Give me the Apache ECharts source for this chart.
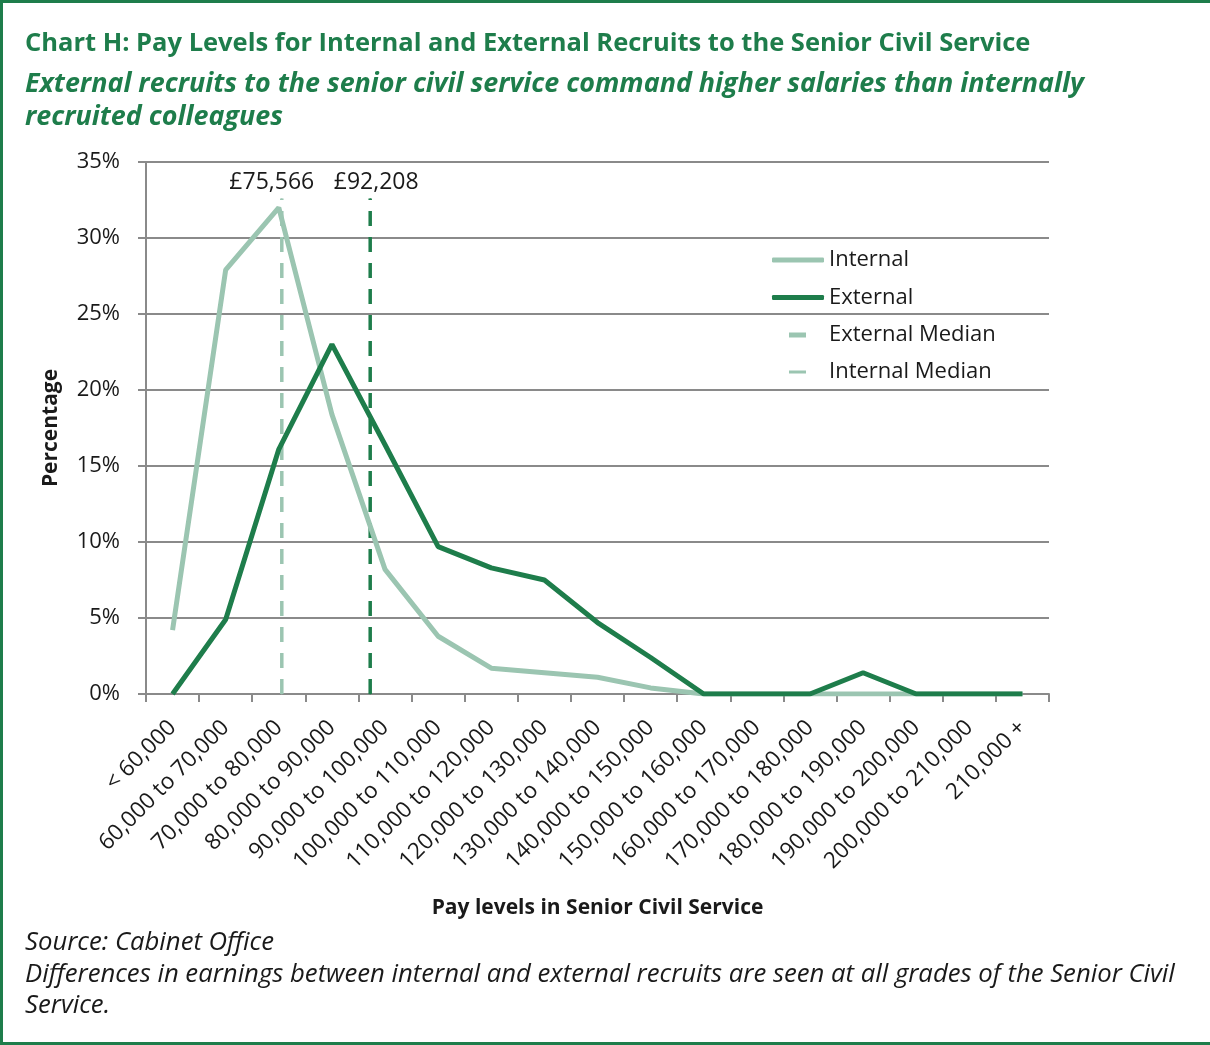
<!DOCTYPE html>
<html>
<head>
<meta charset="utf-8">
<script src="https://cdn.jsdelivr.net/npm/echarts@6/dist/echarts.min.js"></script>
<style>
  html, body { margin: 0; padding: 0; background: #fff; }
  #wrap { position: relative; width: 1210px; height: 1045px; }
  #chart { position: absolute; left: 0; top: 0; width: 1210px; height: 1045px; }
  #frame { position: absolute; left: 0; top: 0; width: 1210px; height: 1045px; box-sizing: border-box;
           border-top: 3px solid #1e7d4b; border-left: 3px solid #1e7d4b; border-bottom: 3px solid #1e7d4b; pointer-events: none; }
</style>
</head>
<body>
<div id="wrap"><div id="chart"></div><div id="frame"></div></div>
<script>
// ---- data ----
const categories = ['< 60,000', '60,000 to 70,000', '70,000 to 80,000', '80,000 to 90,000', '90,000 to 100,000',
  '100,000 to 110,000', '110,000 to 120,000', '120,000 to 130,000', '130,000 to 140,000', '140,000 to 150,000',
  '150,000 to 160,000', '160,000 to 170,000', '170,000 to 180,000', '180,000 to 190,000', '190,000 to 200,000',
  '200,000 to 210,000', '210,000 +'];
const internalPct = [4.2, 27.9, 32.0, 18.4, 8.2, 3.8, 1.7, 1.4, 1.1, 0.4, 0, 0, 0, 0, 0, 0, 0];
const externalPct = [0, 4.9, 16.1, 23.0, 16.4, 9.7, 8.3, 7.5, 4.7, 2.4, 0, 0, 0, 1.4, 0, 0, 0];
const internalMedian = 75566;
const externalMedian = 92208;
const medianLineTop = 32.6;       // height (in %) of the median marker lines
const bandStart = 50000, bandWidth = 10000; // first band treated as 50,000-60,000
const yTicks = [0, 5, 10, 15, 20, 25, 30, 35];

const DARK = '#1e7d4b';
const LIGHT = '#9bc5b1';
const AXIS = '#8a8a8a';
const TXT = '#1a1a1a';
const FONT = "'Open Sans', 'Noto Sans', sans-serif";

function medianPos(v) { return (v - bandStart) / bandWidth; }
function fmtGBP(v) { return '£' + v.toLocaleString('en-GB'); }

function medianSeries(name, v, color, width, offX) {
  const p = medianPos(v);
  return {
    name: name, type: 'line', xAxisIndex: 1, yAxisIndex: 0,
    symbol: 'circle', symbolSize: 1, z: 1,
    itemStyle: { color: color },
    lineStyle: { color: color, width: width, type: [15, 11] },
    data: [
      [p, 0],
      { value: [p, medianLineTop],
        label: { show: true, position: 'top', distance: 4, offset: [offX, 0], formatter: fmtGBP(v),
                 color: TXT, fontSize: 23, fontFamily: FONT } }
    ],
    silent: true, animation: false
  };
}

const chart = echarts.init(document.getElementById('chart'), null, { renderer: 'canvas' });
chart.setOption({
  backgroundColor: '#fff',
  animation: false,
  title: [
    { text: 'Chart H: Pay Levels for Internal and External Recruits to the Senior Civil Service',
      left: 20, top: 24,
      textStyle: { color: DARK, fontFamily: FONT, fontWeight: 'bold', fontSize: 25.5, lineHeight: 30 } },
    { text: 'External recruits to the senior civil service command higher salaries than internally\nrecruited colleagues',
      left: 20, top: 63,
      textStyle: { color: DARK, fontFamily: FONT, fontWeight: 'bold', fontStyle: 'italic', fontSize: 26.9, lineHeight: 33 } },
    { text: 'Source: Cabinet Office\nDifferences in earnings between internal and external recruits are seen at all grades of the Senior Civil\nService.',
      left: 20, top: 922,
      textStyle: { color: TXT, fontFamily: FONT, fontWeight: 'normal', fontStyle: 'italic', fontSize: 25.7, lineHeight: 31.5 } }
  ],
  legend: [
    { orient: 'vertical', left: 772, top: 248, padding: 0, itemWidth: 52, itemHeight: 5, itemGap: 13.5,
      textStyle: { color: TXT, fontSize: 22, fontFamily: FONT, lineHeight: 24 },
      data: [ { name: 'Internal', icon: 'roundRect', itemStyle: { color: LIGHT, borderWidth: 0 } },
              { name: 'External', icon: 'roundRect', itemStyle: { color: DARK, borderWidth: 0 } } ] },
    { orient: 'vertical', left: 789, top: 323, padding: 0, itemWidth: 17, itemHeight: 5,
      textStyle: { color: TXT, fontSize: 22, fontFamily: FONT, lineHeight: 24, padding: [0, 0, 0, 18] },
      data: [ { name: 'External Median', icon: 'rect', itemStyle: { color: LIGHT, borderWidth: 0 } } ] },
    { orient: 'vertical', left: 789, top: 360, padding: 0, itemWidth: 17, itemHeight: 3,
      textStyle: { color: TXT, fontSize: 22, fontFamily: FONT, lineHeight: 24, padding: [0, 0, 0, 18] },
      data: [ { name: 'Internal Median', icon: 'rect', itemStyle: { color: LIGHT, borderWidth: 0 } } ] }
  ],
  grid: { left: 146, right: 161, top: 162, bottom: 351, containLabel: false },
  xAxis: [
    { type: 'category', data: categories, boundaryGap: true,
      name: 'Pay levels in Senior Civil Service', nameLocation: 'middle', nameGap: 204,
      nameTextStyle: { color: TXT, fontFamily: FONT, fontWeight: 'bold', fontSize: 21 },
      axisLine: { lineStyle: { color: AXIS, width: 2 } },
      axisTick: { show: true, interval: 0, length: 8, lineStyle: { color: AXIS, width: 2 } },
      axisLabel: { interval: 0, rotate: 45, margin: 30, color: TXT, fontSize: 22.5, fontFamily: FONT },
      splitLine: { show: false } },
    { type: 'value', min: 0, max: categories.length, show: false }
  ],
  yAxis: [
    { type: 'value', min: yTicks[0], max: yTicks[yTicks.length - 1], interval: 5,
      name: 'Percentage', nameLocation: 'middle', nameGap: 84,
      nameTextStyle: { color: TXT, fontFamily: FONT, fontWeight: 'bold', fontSize: 21 },
      axisLine: { show: true, lineStyle: { color: AXIS, width: 2 } },
      axisTick: { show: true, length: 8, lineStyle: { color: AXIS, width: 2 } },
      axisLabel: { margin: 26, color: TXT, fontSize: 22, fontFamily: FONT, formatter: '{value}%' },
      splitLine: { show: true, lineStyle: { color: AXIS, width: 2 } } }
  ],
  series: [
    { name: 'Internal', type: 'line', data: internalPct, symbol: 'none', z: 3,
      itemStyle: { color: LIGHT }, lineStyle: { color: LIGHT, width: 5 } },
    { name: 'External', type: 'line', data: externalPct, symbol: 'none', z: 4,
      itemStyle: { color: DARK }, lineStyle: { color: DARK, width: 5 } },
    medianSeries('External Median', externalMedian, DARK, 3.5, 6),
    medianSeries('Internal Median', internalMedian, LIGHT, 3.5, -10)
  ]
});
</script>
</body>
</html>
